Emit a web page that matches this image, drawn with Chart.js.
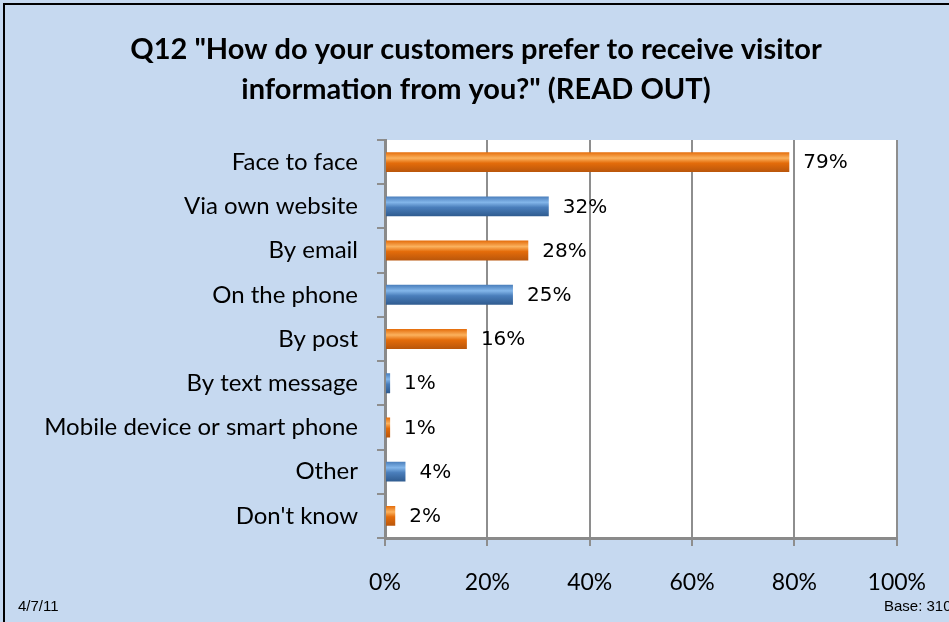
<!DOCTYPE html>
<html>
<head>
<meta charset="utf-8">
<script src="https://cdn.jsdelivr.net/npm/chart.js@4/dist/chart.umd.min.js"></script>
<style>
  html, body { margin: 0; padding: 0; background: #ffffff; }
  #wrap { width: 949px; height: 622px; }
</style>
</head>
<body>
<div id="wrap"><canvas id="chart" width="949" height="622"></canvas></div>
<script>
// chart data
const categories = [
  'Face to face',
  'Via own website',
  'By email',
  'On the phone',
  'By post',
  'By text message',
  'Mobile device or smart phone',
  'Other',
  "Don't know"
];
const shares = [79, 32, 28, 25, 16, 1, 1, 4, 2];
const xTicks = [0, 20, 40, 60, 80, 100];
const titleLines = ['Q12 "How do your customers prefer to receive visitor', 'information from you?" (READ OUT)'];
const footLeft = '4/7/11';
const footRight = 'Base: 310';

// orange / blue alternate like the original slide
const orange = { dark: '#b9560b', base: '#e46c0a', light: '#fbb25e' };
const blue = { dark: '#2f5b8f', base: '#4a7ebb', light: '#83b6ea' };

function barFill(ctx) {
  const pal = ctx.dataIndex % 2 === 0 ? orange : blue;
  const chart = ctx.chart;
  const yScale = chart.scales.y;
  if (!chart.chartArea || !yScale) return pal.base;
  const yc = yScale.getPixelForValue(ctx.dataIndex);
  const band = (chart.chartArea.bottom - chart.chartArea.top) / categories.length;
  const h = band * 0.45;
  const g = chart.ctx.createLinearGradient(0, yc - h / 2, 0, yc + h / 2);
  g.addColorStop(0, pal.base);
  g.addColorStop(0.3, pal.light);
  g.addColorStop(0.55, pal.base);
  g.addColorStop(1, pal.dark);
  return g;
}

// slide background, frame, plot fill, title and footer
const slideBackground = {
  id: 'slideBackground',
  beforeDraw(chart) {
    const c = chart.ctx;
    const a = chart.chartArea;
    c.save();
    c.fillStyle = '#c6d9f0';
    c.fillRect(0, 0, chart.width, chart.height);
    c.strokeStyle = '#000000';
    c.lineWidth = 2;
    c.strokeRect(4, 4, chart.width + 10, chart.height + 10);
    c.fillStyle = '#ffffff';
    c.fillRect(a.left, a.top, a.right - a.left, a.bottom - a.top);
    c.restore();
  },
  afterDraw(chart) {
    const c = chart.ctx;
    c.save();
    c.fillStyle = '#000000';
    // title is centred on the slide, not on the plot
    c.font = 'bold 29px Lato';
    c.textAlign = 'center';
    c.textBaseline = 'alphabetic';
    titleLines.forEach((line, i) => c.fillText(line, 476, 59 + i * 40));
    c.font = '15px "Liberation Sans"';
    c.textAlign = 'left';
    c.fillText(footLeft, 18, 611);
    c.fillText(footRight, 884, 611);
    c.restore();
  }
};

// value labels to the right of each bar
const valueLabels = {
  id: 'valueLabels',
  afterDatasetsDraw(chart) {
    const c = chart.ctx;
    const meta = chart.getDatasetMeta(0);
    c.save();
    c.fillStyle = '#000000';
    c.font = '20px "DejaVu Sans"';
    c.textBaseline = 'middle';
    c.textAlign = 'left';
    meta.data.forEach((bar, i) => {
      c.fillText(shares[i] + '%', bar.x + 14, bar.y + 1);
    });
    c.restore();
  }
};

new Chart(document.getElementById('chart'), {
  type: 'bar',
  data: {
    labels: categories,
    datasets: [{
      data: shares,
      backgroundColor: barFill,
      borderWidth: 0,
      barPercentage: 0.9,
      categoryPercentage: 0.5
    }]
  },
  plugins: [slideBackground, valueLabels],
  options: {
    indexAxis: 'y',
    responsive: false,
    animation: false,
    devicePixelRatio: 1,
    layout: { padding: { left: 0, right: 49, top: 140, bottom: 0 } },
    plugins: {
      legend: { display: false },
      tooltip: { enabled: false },
      title: { display: false }
    },
    scales: {
      x: {
        min: 0,
        max: 100,
        afterBuildTicks(scale) {
          scale.ticks = xTicks.map(v => ({ value: v }));
        },
        afterFit(scale) { scale.height = 84; },
        border: { display: true, color: '#8a8a8a', width: 3 },
        grid: { color: '#8e8e8e', lineWidth: 2, tickLength: 8, drawTicks: true },
        ticks: {
          color: '#000000',
          font: { family: 'Lato', size: 23 },
          padding: 23,
          callback: v => v + '%'
        }
      },
      y: {
        afterFit(scale) { scale.width = 385; },
        border: { display: true, color: '#8a8a8a', width: 3 },
        grid: { drawOnChartArea: false, color: '#8e8e8e', lineWidth: 2, tickLength: 8, offset: true },
        ticks: {
          color: '#000000',
          font: { family: 'Lato', size: 24 },
          padding: 19
        }
      }
    }
  }
});
</script>
</body>
</html>
